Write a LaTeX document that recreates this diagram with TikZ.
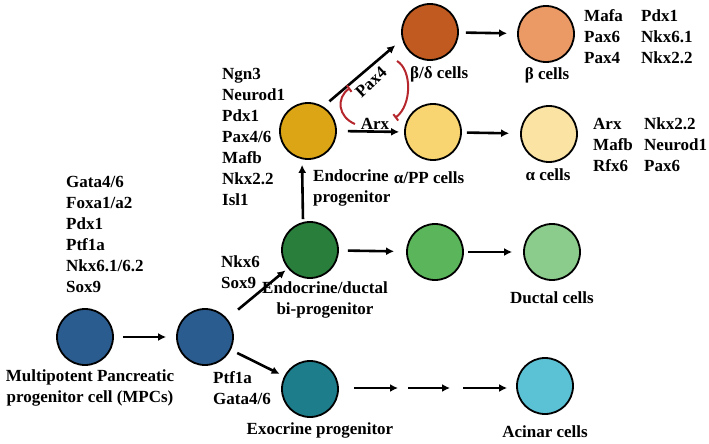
\documentclass[tikz,border=0pt]{standalone}
\usepackage{fontspec}
\setmainfont{Liberation Serif}
\usetikzlibrary{arrows.meta, positioning}
\definecolor{MpcBlue}{HTML}{2B5C8F}
\definecolor{BiGreen}{HTML}{2A7E3C}
\definecolor{ExoTeal}{HTML}{1E7D8A}
\definecolor{DuctMid}{HTML}{5BB55A}
\definecolor{DuctLight}{HTML}{8BCB8B}
\definecolor{AcinarBlue}{HTML}{5BC2D6}
\definecolor{EndoGold}{HTML}{DCA516}
\definecolor{BetaDelta}{HTML}{C05A20}
\definecolor{AlphaPP}{HTML}{F8D570}
\definecolor{BetaOrange}{HTML}{EC9A65}
\definecolor{AlphaPale}{HTML}{FAE3A3}
\definecolor{InhibRed}{HTML}{B5272D}

\begin{document}
\begin{tikzpicture}[x=1pt, y=-1pt,
    cell/.style={circle, draw=black, line width=1.8pt, minimum size=56pt, inner sep=0pt},
    txt/.style={font=\fontsize{17}{21}\selectfont\bfseries, inner sep=0pt, align=left},
    fwd/.style={line width=2.6pt, -{Latex[length=8pt,width=8pt]}},
    inhib/.style={draw=InhibRed, line width=2pt, -{Bar[width=8pt,line width=2pt]}}]
    \useasboundingbox (0,0) rectangle (709,444);

    % cells
    \node[cell, fill=MpcBlue] (mpc) at (85,337) {};
    \node[cell, fill=MpcBlue] (pp) at (205,337) {};
    \node[cell, fill=BiGreen] (bi) at (310,250) {};
    \node[cell, fill=ExoTeal] (exo) at (310,389) {};
    \node[cell, fill=DuctMid] (duct1) at (435,252) {};
    \node[cell, fill=DuctLight] (duct) at (552,252) {};
    \node[cell, fill=AcinarBlue] (acinar) at (545,386) {};
    \node[cell, fill=EndoGold] (endo) at (308,131) {};
    \node[cell, fill=BetaDelta] (bd) at (430,32) {};
    \node[cell, fill=AlphaPP] (app) at (433,132) {};
    \node[cell, fill=BetaOrange] (beta) at (546,34) {};
    \node[cell, fill=AlphaPale] (alpha) at (549,134) {};

    % cell names
    \node[txt, align=center] (mpclabel) at (90,388) {Multipotent Pancreatic\\progenitor cell (MPCs)};
    \node[txt, align=center] (bilabel) at (325,300) {Endocrine/ductal\\bi-progenitor};
    \node[txt, align=center] (exolabel) at (320,430) {Exocrine progenitor};
    \node[txt, below=11pt of duct] (ductlabel) {Ductal cells};
    \node[txt, below=11pt of acinar] (acinarlabel) {Acinar cells};
    \node[txt, anchor=west] (endolabel) at (313,188) {Endocrine\\progenitor};
    \node[txt] (applabel) at (429,178) {α/PP cells};
    \node[txt, anchor=west] (bdlabel) at (410,74) {β/δ cells};
    \node[txt] (betalabel) at (547,75) {β cells};
    \node[txt] (alphalabel) at (548,175) {α cells};

    % gene lists
    \node[txt, anchor=west] (mpcgenes) at (66,234) {Gata4/6\\Foxa1/a2\\Pdx1\\Ptf1a\\Nkx6.1/6.2\\Sox9};
    \node[txt, anchor=west] (bigenes) at (221,272) {Nkx6\\Sox9};
    \node[txt, anchor=west] (exogenes) at (213,388) {Ptf1a\\Gata4/6};
    \node[txt, anchor=west] (endogenes) at (222,137) {Ngn3\\Neurod1\\Pdx1\\Pax4/6\\Mafb\\Nkx2.2\\Isl1};
    \node[txt, anchor=west] (betagenesA) at (584,37) {Mafa\\Pax6\\Pax4};
    \node[txt, anchor=west] (betagenesB) at (641,37) {Pdx1\\Nkx6.1\\Nkx2.2};
    \node[txt, anchor=west] (alphagenesA) at (593,145) {Arx\\Mafb\\Rfx6};
    \node[txt, anchor=west] (alphagenesB) at (644,145) {Nkx2.2\\Neurod1\\Pax6};

    % lineage arrows
    \draw[fwd, shorten <=9pt, shorten >=10pt] (mpc) -- (pp);
    \draw[fwd, shorten <=14pt, shorten >=3pt] (pp) -- (bi);
    \draw[fwd, shorten <=7pt, shorten >=5pt] (pp) -- (exo);
    \draw[fwd, shorten <=2pt, shorten >=5pt] ([xshift=-7pt]bi.north) -- ([xshift=-6pt]endo.south);
    \draw[fwd, shorten <=8pt, shorten >=9pt] (endo.58) -- (bd.195);
    \draw[fwd, shorten <=11pt, shorten >=5pt] (endo.east) -- (app.west);
    \draw[fwd, shorten <=7pt, shorten >=10pt] (bd) -- (beta);
    \draw[fwd, shorten <=5pt, shorten >=11pt] (app) -- (alpha);
    \draw[fwd, shorten <=9pt, shorten >=12pt] (bi) -- (duct1);
    \draw[fwd, shorten <=4pt, shorten >=11pt] (duct1) -- (duct);
    \coordinate (stepA) at (398,388);
    \coordinate (stepB) at (408,388);
    \coordinate (stepC) at (450,388);
    \coordinate (stepD) at (463,388);
    \draw[fwd, shorten <=15pt] (exo.east |- stepA) -- (stepA);
    \draw[fwd] (stepB) -- (stepC);
    \draw[fwd, shorten >=9pt] (stepD) -- (acinar.west |- stepD);

    % arrow labels
    \node[txt, rotate=43] (pax4) at (371,82) {Pax4};
    \node[txt] (arx) at (375,124) {Arx};

    % mutual repression
    \coordinate (repAs) at (355,124);
    \coordinate (repAe) at (350,88);
    \coordinate (repBs) at (397,61);
    \coordinate (repBe) at (395,118);
    \draw[inhib] (repAs) .. controls (338,117) and (336,98) .. (repAe);
    \draw[inhib] (repBs) .. controls (412,70) and (412,105) .. (repBe);
\end{tikzpicture}
\end{document}
